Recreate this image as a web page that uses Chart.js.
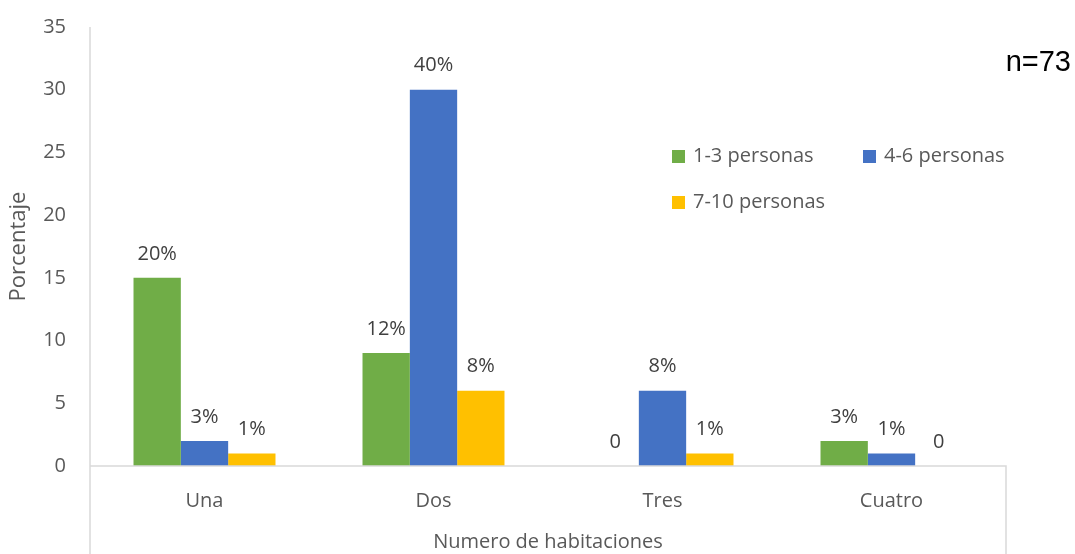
<!DOCTYPE html>
<html lang="es">
<head>
<meta charset="UTF-8">
<title>Numero de habitaciones</title>
<script src="https://cdn.jsdelivr.net/npm/chart.js"></script>
<style>
  html, body { margin: 0; padding: 0; background: #fff; }
  #wrap { position: relative; width: 1075px; height: 554px; }
</style>
</head>
<body>
<div id="wrap"><canvas id="chart"></canvas></div>
<script>
// data
const categories = ['Una', 'Dos', 'Tres', 'Cuatro'];
const seriesNames = ['1-3 personas', '4-6 personas', '7-10 personas'];
const grupo13 = [15, 9, 0, 2];
const grupo46 = [2, 30, 6, 1];
const grupo710 = [1, 6, 1, 0];
const labels13 = ['20%', '12%', '0', '3%'];
const labels46 = ['3%', '40%', '8%', '1%'];
const labels710 = ['1%', '8%', '1%', '0'];
const yTicks = [0, 5, 10, 15, 20, 25, 30, 35];

const colors = ['#70AD47', '#4472C4', '#FFC000'];
const FONT = '"Open Sans", "Noto Sans", sans-serif';
const textGrey = '#595959';
const axisGrey = '#d9d9d9';

// Excel style frame: y axis running down to the bottom, box round the category labels
const frameLines = {
    id: 'frameLines',
    afterDraw(chart) {
        const { ctx, chartArea: a } = chart;
        const h = chart.height;
        ctx.save();
        ctx.strokeStyle = axisGrey;
        ctx.lineWidth = 1.5;
        ctx.beginPath();
        ctx.moveTo(a.left, a.top);
        ctx.lineTo(a.left, h);
        ctx.moveTo(a.left, a.bottom);
        ctx.lineTo(a.right, a.bottom);
        ctx.lineTo(a.right, h);
        ctx.stroke();
        ctx.restore();
    }
};

// value labels above each bar
const barLabels = {
    id: 'barLabels',
    afterDatasetsDraw(chart) {
        const { ctx } = chart;
        ctx.save();
        ctx.font = '20px ' + FONT;
        ctx.fillStyle = '#404040';
        ctx.textAlign = 'center';
        ctx.textBaseline = 'middle';
        chart.data.datasets.forEach((ds, i) => {
            chart.getDatasetMeta(i).data.forEach((bar, j) => {
                ctx.fillText(ds.valueLabels[j], bar.x, bar.y - 24);
            });
        });
        ctx.restore();
    }
};

// legend inside the plot, two columns
const innerLegend = {
    id: 'innerLegend',
    afterDraw(chart) {
        const { ctx, chartArea: a } = chart;
        const x0 = a.left + 582, x1 = a.left + 773;
        const y0 = a.top + 129, y1 = a.top + 175;
        const spots = [[x0, y0], [x1, y0], [x0, y1]];
        ctx.save();
        ctx.font = '20px ' + FONT;
        ctx.textBaseline = 'middle';
        chart.data.datasets.forEach((ds, i) => {
            const [x, y] = spots[i];
            ctx.fillStyle = ds.backgroundColor;
            ctx.fillRect(x, y - 6, 13, 13);
            ctx.fillStyle = textGrey;
            ctx.fillText(ds.label, x + 21, y);
        });
        // sample size note
        ctx.font = '29px "Liberation Sans", Arial, sans-serif';
        ctx.fillStyle = '#000';
        ctx.textAlign = 'right';
        ctx.fillText('n=73', chart.width - 4, a.top + 36);
        ctx.restore();
    }
};

new Chart(document.getElementById('chart'), {
    type: 'bar',
    data: {
        labels: categories,
        datasets: [
            { label: seriesNames[0], data: grupo13, valueLabels: labels13, backgroundColor: colors[0] },
            { label: seriesNames[1], data: grupo46, valueLabels: labels46, backgroundColor: colors[1] },
            { label: seriesNames[2], data: grupo710, valueLabels: labels710, backgroundColor: colors[2] }
        ]
    },
    options: {
        responsive: true,
        maintainAspectRatio: false,
        animation: false,
        layout: { padding: { top: 27, right: 69, bottom: 0, left: 0 } },
        datasets: { bar: { categoryPercentage: 0.62, barPercentage: 1.0 } },
        plugins: {
            legend: { display: false },
            tooltip: { enabled: false }
        },
        scales: {
            x: {
                grid: { display: false, drawTicks: false },
                border: { display: false },
                ticks: { color: textGrey, font: { family: FONT, size: 20 }, padding: 23 },
                title: { display: true, text: 'Numero de habitaciones', color: textGrey,
                         font: { family: FONT, size: 20 }, padding: { top: 15, bottom: 0 } },
                afterFit(scale) { scale.height = 88; }
            },
            y: {
                min: 0,
                max: 35,
                grid: { display: false, drawTicks: false },
                border: { display: false },
                afterBuildTicks(scale) { scale.ticks = yTicks.map(v => ({ value: v })); },
                ticks: { color: textGrey, font: { family: FONT, size: 20 }, padding: 24 },
                title: { display: true, text: 'Porcentaje', color: textGrey,
                         font: { family: FONT, size: 22 }, padding: { top: 6, bottom: 0 } },
                afterFit(scale) {
                    scale.width = 90;
                    scale.paddingTop = 0;
                    scale.paddingBottom = 0;
                }
            }
        }
    },
    plugins: [frameLines, barLabels, innerLegend]
});
</script>
</body>
</html>
